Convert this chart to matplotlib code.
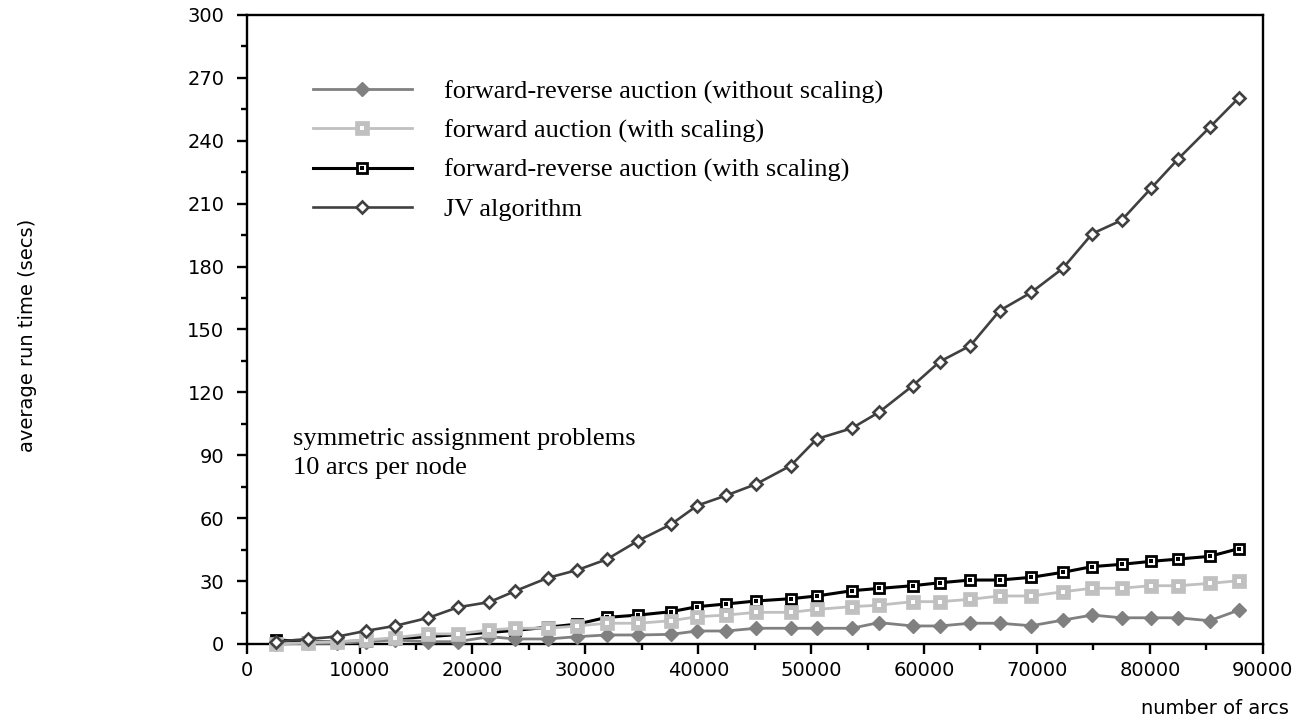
import matplotlib
matplotlib.use('Agg')
from matplotlib import pyplot as plt
from matplotlib.ticker import MultipleLocator

# number of arcs for each test problem
arcs = [2600, 5400, 8000, 10600, 13100, 16100, 18700, 21500, 23800, 26700,
        29300, 31900, 34700, 37600, 39900, 42500, 45100, 48200, 50500, 53600,
        56000, 59000, 61400, 64100, 66700, 69500, 72300, 74900, 77500, 80100,
        82500, 85300, 87900]

# average run times (secs)
fr_no_scaling = [0.0, 0.3, 0.3, 1.1, 1.9, 1.1, 1.1, 3.5, 2.4, 2.4,
                 3.5, 4.3, 4.3, 4.6, 6.2, 6.2, 7.5, 7.5, 7.5, 7.5,
                 10.2, 8.6, 8.6, 9.9, 9.9, 8.7, 11.4, 13.8, 12.5, 12.5,
                 12.5, 11.1, 16.2]
fwd_scaling = [0.0, 0.6, 1.1, 1.9, 3.0, 4.8, 4.8, 6.7, 7.5, 7.5,
               8.6, 9.9, 9.9, 11.1, 13.0, 13.8, 15.1, 15.1, 16.5, 17.8,
               18.5, 20.2, 20.2, 21.3, 22.9, 22.9, 24.9, 26.6, 26.6, 27.8,
               27.8, 28.9, 30.2]
fr_scaling = [2.0, 1.0, 1.0, 1.5, 2.5, 3.5, 4.5, 5.5, 6.5, 8.0,
              9.5, 12.7, 13.8, 15.4, 17.8, 19.1, 20.5, 21.6, 22.9, 25.4,
              26.5, 27.8, 29.2, 30.5, 30.5, 31.8, 34.2, 36.9, 38.0, 39.4,
              40.5, 41.8, 45.5]
jv = [1.1, 2.4, 3.5, 6.3, 8.6, 12.5, 17.5, 20.0, 25.3, 31.6,
      35.3, 40.4, 49.3, 57.1, 66.0, 70.9, 76.2, 85.1, 97.8, 102.9,
      110.5, 123.2, 134.7, 142.3, 159.0, 167.7, 179.2, 195.7, 202.1, 217.3,
      231.3, 246.4, 260.6]

labels = ['forward-reverse auction (without scaling)',
          'forward auction (with scaling)',
          'forward-reverse auction (with scaling)',
          'JV algorithm']

DARK = '#808080'
LIGHT = '#c0c0c0'
JVCOL = '#404040'

fig = plt.figure(figsize=(13.13, 7.28), dpi=100)
ax = fig.add_axes([0.1879, 0.1154, 0.9617 - 0.1879, 0.9794 - 0.1154])

# forward-reverse with scaling: hollow black square with a dot inside
l3, = ax.plot(arcs, fr_scaling, color='black', lw=2.2, marker='s', ms=7.2,
              mfc='white', mec='black', mew=2.0, zorder=2, clip_on=False)
d3, = ax.plot(arcs, fr_scaling, ls='none', marker='s', ms=2.3, mfc='black',
              mec='black', mew=0, zorder=2.1, clip_on=False)
# forward-reverse without scaling: filled gray diamond
l1, = ax.plot(arcs, fr_no_scaling, color=DARK, lw=2.0, marker='D', ms=7.0,
              mfc=DARK, mec=DARK, mew=1, zorder=3, clip_on=False)
# forward auction with scaling: light gray square with white dot
l2, = ax.plot(arcs, fwd_scaling, color=LIGHT, lw=2.0, marker='s', ms=9.5,
              mfc=LIGHT, mec=LIGHT, mew=0.5, zorder=4, clip_on=False)
d2, = ax.plot(arcs, fwd_scaling, ls='none', marker='s', ms=2.2, mfc='white',
              mec='white', mew=0, zorder=4.1, clip_on=False)
# JV: hollow dark diamond
l4, = ax.plot(arcs, jv, color=JVCOL, lw=1.9, marker='D', ms=6.2,
              mfc='white', mec=JVCOL, mew=1.9, zorder=5, clip_on=False)

ax.set_xlim(0, 90000)
ax.set_ylim(0, 300)
ax.xaxis.set_major_locator(MultipleLocator(10000))
ax.xaxis.set_minor_locator(MultipleLocator(5000))
ax.yaxis.set_major_locator(MultipleLocator(30))
ax.yaxis.set_minor_locator(MultipleLocator(15))
for s in ax.spines.values():
    s.set_linewidth(1.7)
ax.tick_params(which='major', length=7, width=1.7, labelsize=14, direction='out')
ax.tick_params(which='minor', length=4, width=1.7, direction='out')
ax.tick_params(axis='y', pad=9)
ax.tick_params(axis='x', pad=5)

fig.text(28 / 1313, 1 - 335 / 728, 'average run time (secs)', rotation=90,
         ha='center', va='center', fontsize=14)
fig.text(1215 / 1313, 1 - 708 / 728, 'number of arcs', ha='center',
         va='center', fontsize=14)

serif = 'Liberation Serif'
ax.text(4100, 98, 'symmetric assignment problems', family=serif,
        fontsize=19, va='center')
ax.text(4100, 84, '10 arcs per node', family=serif, fontsize=19, va='center')

handles = [l1, (l2, d2), (l3, d3), l4]
leg = fig.legend(handles, labels, loc='upper left',
                 bbox_to_anchor=(313 / 1313, 1 - 80 / 728), frameon=False,
                 borderpad=0, borderaxespad=0, numpoints=1,
                 handlelength=3.75, handletextpad=1.2, labelspacing=0.58,
                 prop={'family': serif, 'size': 19})

fig.savefig('out.png', dpi=100)
